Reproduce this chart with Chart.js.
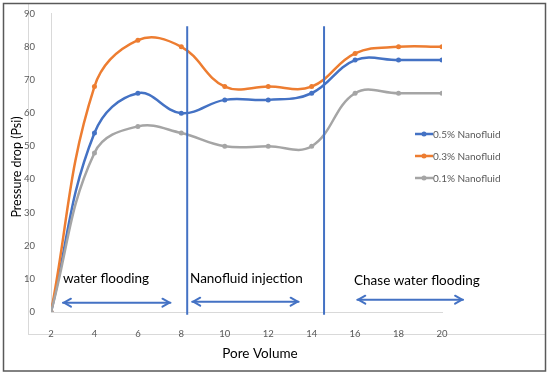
<!DOCTYPE html>
<html lang="en">
<head>
<meta charset="UTF-8">
<title>Pressure drop vs pore volume</title>
<script src="https://cdn.jsdelivr.net/npm/chart.js"></script>
<style>
  html, body { margin: 0; padding: 0; background: #fff; }
  #wrap { width: 550px; height: 376px; }
</style>
</head>
<body>
<div id="wrap"><canvas id="myChart" width="550" height="376"></canvas></div>
<script>
// data
const poreVolume = [2, 4, 6, 8, 10, 12, 14, 16, 18, 20];
const nano05 = [0, 54, 66, 60, 64, 64, 66, 76, 76, 76];
const nano03 = [0, 68, 82, 80, 68, 68, 68, 78, 80, 80];
const nano01 = [0, 48, 56, 54, 50, 50, 50, 66, 66, 66];
const seriesNames = ['0.5% Nanofluid', '0.3% Nanofluid', '0.1% Nanofluid'];
const seriesColors = ['#4472C4', '#ED7D31', '#A5A5A5'];
const phaseBoundaries = [8.27, 14.57];
const phaseNames = ['water flooding', 'Nanofluid injection', 'Chase water flooding'];
const xTitle = 'Pore Volume';
const yTitle = 'Pressure drop (Psi)';

// where the phase labels / arrows sit, in axis units
const phaseText = [{x: 2.55, y: 10}, {x: 8.4, y: 10}, {x: 15.95, y: 9.4}];
const phaseArrows = [{x1: 2.55, x2: 7.5, y: 2.8}, {x1: 8.5, x2: 13.4, y: 3.1}, {x1: 16.1, x2: 20.97, y: 3.7}];

const toPoints = vals => vals.map((v, i) => ({x: poreVolume[i], y: v}));
const FONT = 'Lato, "Open Sans", sans-serif';

const datasets = [nano05, nano03, nano01].map((vals, i) => ({
  label: seriesNames[i],
  data: toPoints(vals),
  borderColor: seriesColors[i],
  backgroundColor: seriesColors[i],
  borderWidth: 2.5,
  pointRadius: 2.5,
  pointBorderWidth: 0,
  tension: 0.4,
  order: 3 - i
}));
phaseBoundaries.forEach(b => {
  datasets.push({
    label: 'boundary',
    data: [{x: b, y: -0.8}, {x: b, y: 86.2}],
    borderColor: '#4472C4',
    borderWidth: 2,
    pointRadius: 0,
    clip: false,
    order: 0
  });
});

// frame, axis titles, legend, phase labels and arrows
const decor = {
  id: 'decor',
  beforeDraw(chart) {
    const c = chart.ctx;
    c.save();
    c.fillStyle = '#fff';
    c.fillRect(0, 0, chart.width, chart.height);
    c.strokeStyle = '#d9d9d9';
    c.lineWidth = 1;
    c.strokeRect(28.5, 3.5, 517, 331);
    c.strokeStyle = '#595959';
    c.lineWidth = 1.5;
    c.strokeRect(3.5, 3.5, 542, 367.5);
    c.restore();
  },
  afterDraw(chart) {
    const c = chart.ctx;
    const xs = chart.scales.x, ys = chart.scales.y;
    c.save();
    // axis titles
    c.fillStyle = '#000';
    c.textAlign = 'center';
    c.textBaseline = 'middle';
    c.font = '13.5px ' + FONT;
    c.fillText(xTitle, 260, 354);
    c.save();
    c.translate(17, 167);
    c.rotate(-Math.PI / 2);
    c.font = '12.5px ' + FONT;
    c.fillText(yTitle, 0, 0);
    c.restore();
    c.textAlign = 'left';
    // legend
    c.font = '10px ' + FONT;
    seriesNames.forEach((name, i) => {
      const y = 134 + i * 22;
      c.strokeStyle = seriesColors[i];
      c.lineWidth = 2.5;
      c.beginPath(); c.moveTo(415, y); c.lineTo(433, y); c.stroke();
      c.fillStyle = seriesColors[i];
      c.beginPath(); c.arc(424, y, 2.5, 0, Math.PI * 2); c.fill();
      c.fillStyle = '#595959';
      c.fillText(name, 433, y + 0.5);
    });
    // phase labels
    c.font = '13.5px ' + FONT;
    c.fillStyle = '#000';
    phaseNames.forEach((t, i) => {
      c.fillText(t, xs.getPixelForValue(phaseText[i].x), ys.getPixelForValue(phaseText[i].y));
    });
    // double arrows
    c.strokeStyle = '#4472C4';
    c.lineWidth = 2;
    c.lineCap = 'round';
    c.lineJoin = 'round';
    phaseArrows.forEach(a => {
      const x1 = xs.getPixelForValue(a.x1), x2 = xs.getPixelForValue(a.x2), y = ys.getPixelForValue(a.y);
      c.beginPath(); c.moveTo(x1, y); c.lineTo(x2, y); c.stroke();
      c.beginPath(); c.moveTo(x1 + 8, y - 4); c.lineTo(x1 + 1, y); c.lineTo(x1 + 8, y + 4); c.stroke();
      c.beginPath(); c.moveTo(x2 - 8, y - 4); c.lineTo(x2 - 1, y); c.lineTo(x2 - 8, y + 4); c.stroke();
    });
    c.restore();
  }
};

const ctx = document.getElementById('myChart');
const myChart = new Chart(ctx, {
  type: 'line',
  data: { datasets: datasets },
  options: {
    responsive: false,
    animation: false,
    layout: { padding: { top: 13, right: 108, left: 0, bottom: 0 } },
    plugins: { legend: { display: false }, tooltip: { enabled: false } },
    scales: {
      x: {
        type: 'linear',
        min: 2, max: 20,
        afterFit: s => { s.height = 64; },
        grid: { display: false },
        border: { display: true, color: '#d9d9d9', width: 1 },
        ticks: { stepSize: 2, padding: 8, color: '#595959', font: { family: FONT, size: 9.5 } }
      },
      y: {
        min: 0, max: 90,
        afterFit: s => { s.width = 51; },
        grid: { display: false },
        border: { display: true, color: '#d9d9d9', width: 1 },
        ticks: { stepSize: 10, padding: 8, color: '#595959', font: { family: FONT, size: 9.5 } }
      }
    }
  },
  plugins: [decor]
});
</script>
</body>
</html>
